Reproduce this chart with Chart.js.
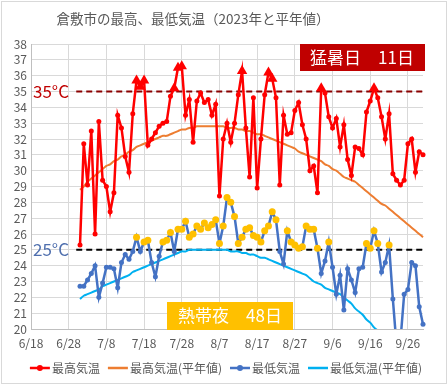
<!DOCTYPE html>
<html>
<head>
<meta charset="utf-8">
<script src="https://cdn.jsdelivr.net/npm/chart.js@4.4.0/dist/chart.umd.min.js"></script>
<style>
  body { margin: 0; background: #fff; }
  #wrap { width: 448px; height: 385px; }
</style>
</head>
<body>
<div id="wrap"><canvas id="tempChart" width="448" height="385"></canvas></div>
<script>
// Categories: every day from 6/18 to 9/30 (data starts 7/1)
const categories = [];
for (let i = 0; i < 105; i++) {
  const d = new Date(2023, 5, 18 + i);
  categories.push((d.getMonth() + 1) + '/' + d.getDate());
}
const tickLabels = ['6/18', '6/28', '7/8', '7/18', '7/28', '8/7', '8/17', '8/27', '9/6', '9/16', '9/26'];
const leadingBlank = 13; // 6/18 .. 6/30 have no data

const titleText = '倉敷市の最高、最低気温（2023年と平年値）';
const seriesNames = ['最高気温', '最高気温(平年値)', '最低気温', '最低気温(平年値)'];

// 最高気温 2023
const maxJul = [25.3, 31.7, 29.1, 32.5, 26.0, 33.1, 29.4, 29.0, 27.4, 28.6, 33.5, 32.7, 30.9, 29.9, 33.6, 35.7,
  35.3, 35.7, 31.6, 32.0, 32.4, 32.8, 33.0, 33.1, 34.7, 35.2, 36.5, 36.6, 33.5, 34.5, 31.8];
const maxAug = [34.4, 34.9, 34.3, 34.5, 33.5, 34.2, 28.4, 32.0, 33.0, 31.8, 33.0, 34.8, 36.3, 32.7, 29.6, 34.6,
  28.9, 32.0, 34.8, 36.2, 35.8, 34.6, 29.1, 33.5, 32.3, 32.4, 33.8, 34.3, 32.9, 32.0, 30.0];
const maxSep = [30.3, 28.6, 35.2, 34.9, 33.4, 32.7, 33.3, 31.5, 32.9, 30.7, 29.7, 31.5, 31.4, 31.0, 33.7,
  34.4, 35.2, 34.6, 33.4, 32.0, 33.6, 29.8, 29.4, 29.1, 29.4, 31.7, 32.0, 29.9, 31.2, 31.0];

// 最高気温 平年値
const normMaxJul = [28.8, 29.0, 29.3, 29.5, 29.7, 29.9, 30.1, 30.3, 30.4, 30.6, 30.7, 30.9, 31.0, 31.2, 31.3, 31.5,
  31.6, 31.7, 31.8, 31.9, 32.0, 32.1, 32.2, 32.2, 32.3, 32.4, 32.5, 32.6, 32.6, 32.7, 32.7];
const normMaxAug = [32.8, 32.8, 32.8, 32.8, 32.8, 32.8, 32.8, 32.8, 32.7, 32.7, 32.7, 32.6, 32.6, 32.5, 32.5, 32.4,
  32.3, 32.3, 32.2, 32.1, 32.0, 31.9, 31.8, 31.7, 31.6, 31.5, 31.4, 31.2, 31.1, 31.0, 30.9];
const normMaxSep = [30.8, 30.7, 30.6, 30.4, 30.3, 30.1, 30.0, 29.8, 29.6, 29.5, 29.4, 29.3, 29.1, 28.9, 28.7,
  28.5, 28.3, 28.1, 27.9, 27.8, 27.6, 27.4, 27.2, 27.0, 26.8, 26.6, 26.4, 26.2, 26.0, 25.8];

// 最低気温 2023
const minJul = [22.7, 22.7, 23.1, 23.5, 24.0, 22.0, 22.9, 23.9, 23.9, 23.8, 22.6, 24.2, 24.7, 24.4, 24.9, 25.8,
  24.9, 25.5, 25.6, 24.2, 23.3, 24.6, 25.5, 25.6, 26.1, 24.9, 26.3, 26.3, 26.8, 25.8, 26.0];
const minAug = [26.5, 26.3, 26.7, 26.4, 26.6, 26.9, 25.4, 26.5, 28.3, 28.0, 27.1, 25.4, 25.8, 26.3, 26.4, 25.9,
  25.8, 25.5, 26.2, 26.5, 27.4, 26.9, 24.9, 24.1, 26.2, 25.5, 25.3, 25.1, 25.2, 26.5, 26.3];
const minSep = [26.3, 25.1, 23.5, 24.3, 25.5, 23.9, 22.2, 23.4, 21.2, 23.8, 23.1, 22.3, 23.8, 23.9, 25.4,
  25.1, 26.2, 25.4, 23.6, 24.2, 25.3, 21.9, 18.9, 19.2, 22.2, 22.5, 24.2, 24.0, 21.4, 20.3];

// 最低気温 平年値
const normMinJul = [21.9, 22.1, 22.2, 22.3, 22.4, 22.5, 22.7, 22.8, 22.9, 23.0, 23.1, 23.2, 23.3, 23.4, 23.6, 23.7,
  23.8, 23.9, 24.0, 24.1, 24.2, 24.3, 24.4, 24.5, 24.6, 24.7, 24.8, 24.9, 24.9, 25.0, 25.0];
const normMinAug = [25.0, 25.0, 25.0, 25.0, 25.0, 25.0, 25.0, 25.0, 25.0, 24.9, 24.9, 24.9, 24.8, 24.8, 24.7, 24.7,
  24.6, 24.5, 24.5, 24.4, 24.3, 24.2, 24.1, 24.0, 23.9, 23.8, 23.7, 23.6, 23.5, 23.4, 23.2];
const normMinSep = [23.0, 22.9, 22.8, 22.6, 22.5, 22.4, 22.3, 22.2, 22.0, 21.8, 21.6, 21.3, 21.1, 20.9, 20.6,
  20.4, 20.1, 19.9, 19.6, 19.4, 19.2, 19.0, 18.8, 18.6, 18.4, 18.2, 18.0, 17.8, 17.6, 17.4];

const heatLimit = 35;   // 猛暑日
const nightLimit = 25;  // 熱帯夜
const heatBoxText = '猛暑日　11日';
const nightBoxText = '熱帯夜　48日';

function withPad(a, b, c) {
  return new Array(leadingBlank).fill(null).concat(a, b, c);
}

const maxTemp = withPad(maxJul, maxAug, maxSep);
const normalMax = withPad(normMaxJul, normMaxAug, normMaxSep);
const minTemp = withPad(minJul, minAug, minSep);
const normalMin = withPad(normMinJul, normMinAug, normMinSep);

const cjk = "'Noto Sans CJK JP', 'Noto Sans', sans-serif";
Chart.defaults.font.family = cjk;
Chart.defaults.font.size = 12;
Chart.defaults.color = '#595959';

const RED = '#FF0000', ORANGE = '#ED7D31', BLUE = '#4472C4', CYAN = '#00B0F0', YELLOW = '#FFC000';

const decorPlugin = {
  id: 'decor',
  beforeDraw(chart) {
    const ctx = chart.ctx;
    ctx.save();
    ctx.fillStyle = '#fff';
    ctx.fillRect(0, 0, chart.width, chart.height);
    ctx.strokeStyle = '#d9d9d9';
    ctx.lineWidth = 1;
    ctx.strokeRect(1.5, 1.5, chart.width - 3, chart.height - 3);
    // title
    ctx.fillStyle = '#595959';
    ctx.font = '13.5px ' + cjk;
    ctx.textAlign = 'center';
    ctx.textBaseline = 'middle';
    ctx.fillText(titleText, 193, 19);
    ctx.restore();
  },
  beforeDatasetsDraw(chart) {
    const { ctx, chartArea } = chart;
    const x = chart.scales.x, y = chart.scales.y;
    const x0 = x.getPixelForValue(leadingBlank - 1);
    ctx.save();
    ctx.lineWidth = 2;
    ctx.setLineDash([6, 4]);
    [[heatLimit, '#8B0000'], [nightLimit, '#000000']].forEach(function (item) {
      const py = y.getPixelForValue(item[0]);
      ctx.strokeStyle = item[1];
      ctx.beginPath();
      ctx.moveTo(x0, py);
      ctx.lineTo(chartArea.right, py);
      ctx.stroke();
    });
    ctx.restore();
  },
  afterDraw(chart) {
    const ctx = chart.ctx;
    const y = chart.scales.y;
    ctx.save();
    // 35°C / 25°C labels
    ctx.font = '17px ' + cjk;
    ctx.textAlign = 'left';
    ctx.textBaseline = 'middle';
    ctx.fillStyle = '#C00000';
    ctx.fillText(heatLimit + '°C', 33, y.getPixelForValue(heatLimit));
    ctx.fillStyle = '#4F6FAE';
    ctx.fillText(nightLimit + '°C', 33, y.getPixelForValue(nightLimit));

    // count boxes
    ctx.fillStyle = '#C00000';
    ctx.fillRect(300, 44, 125, 27);
    ctx.fillStyle = YELLOW;
    ctx.fillRect(167, 302, 126, 28);
    ctx.fillStyle = '#fff';
    ctx.textAlign = 'center';
    ctx.fillText(heatBoxText, 362, 58);
    ctx.fillText(nightBoxText, 230, 316);

    // legend
    const items = [
      { label: seriesNames[0], color: RED, marker: true },
      { label: seriesNames[1], color: ORANGE, marker: false },
      { label: seriesNames[2], color: BLUE, marker: true },
      { label: seriesNames[3], color: CYAN, marker: false }
    ];
    ctx.font = '12px ' + cjk;
    const symW = 20, symGap = 2, itemGap = 8;
    let total = 0;
    items.forEach(function (it) {
      it.w = ctx.measureText(it.label).width;
      total += symW + symGap + it.w;
    });
    total += itemGap * (items.length - 1);
    let lx = 226 - total / 2;
    const ly = 368;
    ctx.textAlign = 'left';
    items.forEach(function (it) {
      ctx.strokeStyle = it.color;
      ctx.lineWidth = 2.5;
      ctx.beginPath();
      ctx.moveTo(lx, ly);
      ctx.lineTo(lx + symW, ly);
      ctx.stroke();
      if (it.marker) {
        ctx.fillStyle = it.color;
        ctx.beginPath();
        ctx.arc(lx + symW / 2, ly, 3, 0, Math.PI * 2);
        ctx.fill();
      }
      ctx.fillStyle = '#595959';
      ctx.fillText(it.label, lx + symW + symGap, ly);
      lx += symW + symGap + it.w + itemGap;
    });
    ctx.restore();
  }
};

const ctx = document.getElementById('tempChart').getContext('2d');
const tempChart = new Chart(ctx, {
  type: 'line',
  data: {
    labels: categories,
    datasets: [
      {
        label: seriesNames[1],
        data: normalMax,
        borderColor: ORANGE,
        borderWidth: 2,
        pointRadius: 0,
        tension: 0.4,
        order: 4
      },
      {
        label: seriesNames[3],
        data: normalMin,
        borderColor: CYAN,
        borderWidth: 2,
        pointRadius: 0,
        tension: 0.4,
        order: 3
      },
      {
        label: seriesNames[2],
        data: minTemp,
        borderColor: BLUE,
        borderWidth: 2.5,
        pointRadius: minTemp.map(v => v === null ? 0 : (v >= nightLimit ? 3.5 : 2.5)),
        pointBackgroundColor: minTemp.map(v => v !== null && v >= nightLimit ? YELLOW : BLUE),
        pointBorderWidth: 0,
        tension: 0,
        order: 2
      },
      {
        label: seriesNames[0],
        data: maxTemp,
        borderColor: RED,
        borderWidth: 2.5,
        pointStyle: maxTemp.map(v => v !== null && v >= heatLimit ? 'triangle' : 'circle'),
        pointRadius: maxTemp.map(v => v === null ? 0 : (v >= heatLimit ? 6 : 2.5)),
        pointBackgroundColor: RED,
        pointBorderColor: RED,
        pointBorderWidth: 0,
        tension: 0,
        order: 1
      }
    ]
  },
  options: {
    responsive: false,
    animation: false,
    devicePixelRatio: 1,
    layout: { padding: { top: 44, right: 25, bottom: 32, left: 0 } },
    plugins: {
      legend: { display: false },
      title: { display: false },
      tooltip: { enabled: false }
    },
    scales: {
      x: {
        type: 'category',
        offset: false,
        grid: { color: '#d9d9d9', drawTicks: false },
        border: { color: '#bfbfbf' },
        ticks: {
          autoSkip: false,
          maxRotation: 0,
          padding: 7,
          font: { size: 12 },
          callback: function (value) {
            const lab = this.getLabelForValue(value);
            return tickLabels.includes(lab) ? lab : null;
          }
        },
        afterFit: function (scale) { scale.height = 24; }
      },
      y: {
        min: 20,
        max: 38,
        grid: { color: '#d9d9d9', drawTicks: false },
        border: { color: '#bfbfbf' },
        ticks: { stepSize: 1, autoSkip: false, padding: 4, font: { size: 12 } },
        afterFit: function (scale) { scale.width = 31; }
      }
    }
  },
  plugins: [decorPlugin]
});
</script>
</body>
</html>
